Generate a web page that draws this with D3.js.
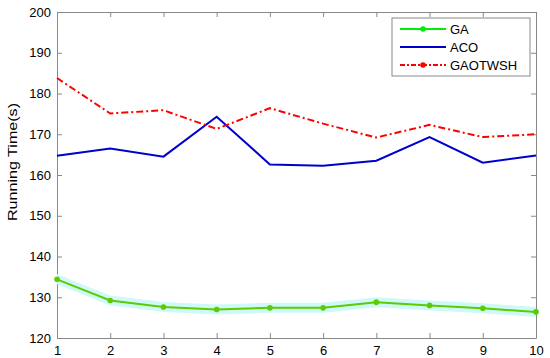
<html>
<head>
<style>
  body { margin: 0; background: #fff; }
  svg text { font-family: "Liberation Sans", Arial, sans-serif; fill: #000; }
  .axis path, .axis line { stroke: #888; }
</style>
</head>
<body>
<svg width="550" height="358"></svg>
<script src="https://cdn.jsdelivr.net/npm/d3@7/dist/d3.min.js"></script>
<script>

var runs = [1, 2, 3, 4, 5, 6, 7, 8, 9, 10];
var ga = [134.4, 129.2, 127.6, 127.0, 127.4, 127.4, 128.8, 128.0, 127.3, 126.4];
var aco = [164.7, 166.5, 164.5, 174.3, 162.6, 162.3, 163.5, 169.3, 163.0, 164.8];
var gaotwsh = [183.8, 175.1, 175.9, 171.3, 176.4, 172.6, 169.2, 172.3, 169.3, 170.0];
var yTicks = [120, 130, 140, 150, 160, 170, 180, 190, 200];

var svg = d3.select("svg"),
    margin = {top: 12, right: 14, bottom: 20, left: 57},
    width = +svg.attr("width") - margin.left - margin.right,
    height = +svg.attr("height") - margin.top - margin.bottom,
    g = svg.append("g").attr("transform", "translate(" + margin.left + "," + margin.top + ")");

var x = d3.scaleLinear().domain([1, 10]).range([0, width]);
var y = d3.scaleLinear().domain([120, 200]).range([height, 0]);

// box with inward ticks (matlab style)
g.append("g").attr("class", "axis")
    .attr("transform", "translate(0," + height + ")")
    .call(d3.axisBottom(x).tickValues(runs).tickFormat(d3.format("d")).tickSizeInner(-5).tickSizeOuter(0).tickPadding(8))
    .call(function(a) { a.selectAll("text").attr("font-size", 13); });
g.append("g").attr("class", "axis")
    .call(d3.axisTop(x).tickValues(runs).tickFormat("").tickSizeInner(-5).tickSizeOuter(0));
g.append("g").attr("class", "axis")
    .call(d3.axisLeft(y).tickValues(yTicks).tickSizeInner(-5).tickSizeOuter(0).tickPadding(6))
    .call(function(a) { a.selectAll("text").attr("font-size", 13); });
g.append("g").attr("class", "axis")
    .attr("transform", "translate(" + width + ",0)")
    .call(d3.axisRight(y).tickValues(yTicks).tickFormat("").tickSizeInner(-5).tickSizeOuter(0));

svg.append("text")
    .attr("transform", "translate(17,162) rotate(-90)")
    .attr("text-anchor", "middle")
    .attr("font-size", 12.5)
    .attr("textLength", 118)
    .attr("lengthAdjust", "spacingAndGlyphs")
    .text("Running Time(s)");

var line = d3.line()
    .x(function(d, i) { return x(runs[i]); })
    .y(function(d) { return y(d); });

// light halo around GA
g.append("path")
    .datum(ga)
    .attr("d", d3.area()
        .x(function(d, i) { return x(runs[i]); })
        .y0(function(d) { return y(d) - 5; })
        .y1(function(d) { return y(d) + 5; }))
    .attr("fill", "#cff9f9");

g.append("path").datum(aco).attr("d", line)
    .attr("fill", "none").attr("stroke", "#0000cc").attr("stroke-width", 2);

g.append("path").datum(gaotwsh).attr("d", line)
    .attr("fill", "none").attr("stroke", "#ff0000").attr("stroke-width", 2)
    .attr("stroke-dasharray", "7,3,2,3");

g.append("path").datum(ga).attr("d", line)
    .attr("fill", "none").attr("stroke", "#5ccc00").attr("stroke-width", 2);

g.selectAll(".gadot").data(ga).enter().append("circle")
    .attr("cx", function(d, i) { return x(runs[i]); })
    .attr("cy", function(d) { return y(d); })
    .attr("r", 2.8)
    .attr("fill", "#5ccc00");

// legend
var legend = [
  {name: "GA", color: "#00ee00", dash: null, dot: true},
  {name: "ACO", color: "#0000cc", dash: null, dot: false},
  {name: "GAOTWSH", color: "#ff0000", dash: "5,2,2,2", dot: true}
];
var lg = svg.append("g").attr("transform", "translate(392,18)");
lg.append("rect").attr("width", 138).attr("height", 58)
    .attr("fill", "#fff").attr("stroke", "#888");
legend.forEach(function(d, i) {
  var yy = 11 + i * 18;
  lg.append("line").attr("x1", 8).attr("x2", 54).attr("y1", yy).attr("y2", yy)
      .attr("stroke", d.color).attr("stroke-width", 2)
      .attr("stroke-dasharray", d.dash);
  if (d.dot) lg.append("circle").attr("cx", 31).attr("cy", yy).attr("r", 2.8).attr("fill", d.color);
  lg.append("text").attr("x", 58).attr("y", yy + 5).attr("font-size", 13).text(d.name);
});

</script>
</body>
</html>
